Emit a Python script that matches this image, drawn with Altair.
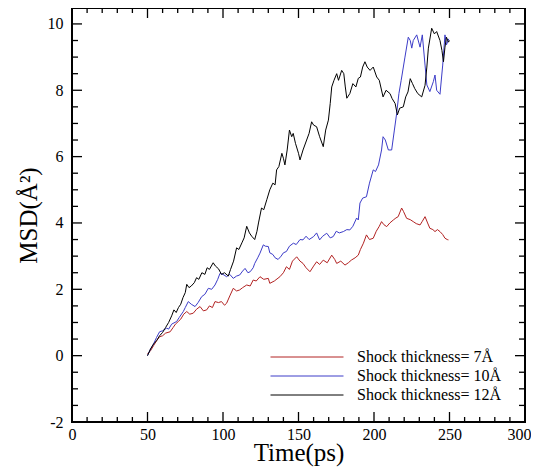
import altair as alt
import pandas as pd

# ---- data ----
t12 = [50, 52, 54, 56, 58, 60, 62, 64, 66, 67.5, 69, 70.5, 72, 73.5, 75, 76, 77.5, 79, 81, 82.5,
       84, 86, 88, 89.5, 91, 93.5, 95, 97, 99, 101, 103.5, 105, 107, 109, 110.5, 112.5, 114, 115.7,
       117.5, 119, 121, 122.5, 123.5, 125.5, 127, 129, 131, 133, 134.5, 135.5, 137, 139, 140, 141,
       142.5, 144, 145.5, 146.5, 148, 150, 151, 153, 155.4, 157, 158.7, 160, 162, 164, 166.4, 168,
       169.8, 171, 172, 173.5, 175.3, 176.5, 178.6, 180, 181, 182, 184, 186, 188, 189.6, 191, 192.5,
       194, 195.5, 197.4, 199.5, 201.8, 203.5, 206, 208, 210.6, 212, 214, 215.5, 217, 219.4, 221,
       222.5, 224, 225.5, 227, 229, 231.6, 233.8, 235, 236, 238.2, 240, 241.5, 243.7, 245, 246, 247,
       248, 249.3, 250]
v12 = [0.0, 0.2, 0.35, 0.45, 0.6, 0.7, 0.85, 1.0, 1.2, 1.38, 1.3, 1.45, 1.55, 1.75, 1.9, 2.15, 2.05,
       2.1, 2.2, 2.35, 2.3, 2.5, 2.45, 2.65, 2.6, 2.8, 2.7, 2.62, 2.45, 2.5, 2.4, 2.6, 2.85, 3.25, 3.2,
       3.4, 3.55, 3.9, 3.7, 3.6, 3.5, 3.75, 4.0, 4.45, 4.4, 4.7, 5.0, 5.2, 5.15, 5.6, 5.7, 6.1, 5.95,
       5.75, 6.2, 6.8, 6.6, 6.7, 6.4, 6.1, 5.9, 6.2, 6.5, 6.7, 7.05, 6.95, 6.9, 6.6, 6.3, 6.8, 7.1,
       7.6, 8.1, 8.3, 8.5, 8.3, 8.6, 8.5, 8.1, 7.76, 7.9, 8.2, 8.1, 8.36, 8.4, 8.7, 8.86, 8.7, 8.6,
       8.7, 8.4, 8.3, 7.8, 8.0, 7.9, 7.75, 7.6, 7.26, 7.46, 7.5, 7.8, 7.95, 8.35, 8.2, 8.05, 7.9, 7.8,
       8.15, 8.7, 9.27, 9.87, 9.7, 9.77, 9.5, 9.2, 8.86, 9.3, 9.6, 9.45, 9.5]

t10 = [50, 52, 54, 56, 58, 60, 62.7, 64, 66, 69.3, 71, 73.7, 75, 77, 79, 81.5, 83.5, 85.9, 88, 90.3,
       92.5, 94.7, 96.5, 98, 100, 102.4, 104.5, 106.8, 109, 111, 113, 114.6, 116.5, 118, 120, 121,
       123, 124.5, 126.7, 128, 130, 131, 133, 134.5, 136.5, 138.5, 140, 142, 144, 146.6, 148.5, 151,
       153, 155, 157, 160, 162, 164, 166, 168.7, 171, 173, 175, 177, 179.7, 182, 184, 186, 188.5,
       189.6, 190.7, 192.5, 195, 197, 199.5, 201, 203, 205, 206, 207.5, 209.5, 211.7, 213.5, 215,
       216.5, 218, 220.5, 222.7, 224, 225, 226, 228.3, 230.5, 232, 233.8, 235, 237, 239.3, 240.4,
       241.5, 243.7, 245.5, 247, 248, 249.5]
v10 = [0.0, 0.2, 0.35, 0.55, 0.72, 0.75, 0.83, 0.8, 0.95, 1.03, 1.15, 1.33, 1.45, 1.63, 1.55, 1.48,
       1.6, 1.78, 1.85, 2.03, 2.0, 2.13, 2.3, 2.48, 2.45, 2.38, 2.45, 2.33, 2.4, 2.43, 2.55, 2.63, 2.5,
       2.53, 2.65, 2.78, 2.95, 3.09, 3.34, 3.3, 3.29, 3.1, 3.05, 2.95, 2.9, 3.0, 3.1, 3.14, 3.3, 3.39,
       3.35, 3.5, 3.49, 3.6, 3.5, 3.59, 3.7, 3.49, 3.6, 3.69, 3.55, 3.59, 3.75, 3.7, 3.74, 3.8, 3.79,
       3.9, 4.15, 4.09, 4.6, 4.75, 4.79, 5.2, 5.6, 5.55, 5.75, 6.2, 6.6, 6.5, 6.2, 6.2, 6.8, 7.3, 7.9,
       8.3, 9.0, 9.6, 9.5, 9.27, 9.5, 9.67, 9.3, 9.67, 8.76, 8.16, 7.96, 8.26, 8.46, 8.0, 7.88, 8.76,
       9.67, 9.37, 9.55]

t7 = [50, 52, 54, 56, 58, 60, 62, 65, 67, 68.5, 70.4, 72, 74, 76, 78, 80.3, 82.5, 84.8, 87, 89.2,
      91, 93, 94.7, 97, 99, 101, 102.4, 104.5, 106.8, 109, 111, 113, 115.7, 118, 120, 122, 124.5,
      127, 130, 131, 134, 137.7, 140, 142, 144, 146, 148.8, 151, 153, 155, 157.6, 160, 162, 164,
      166.4, 169, 172, 174, 175.3, 178, 180.8, 183, 185, 187.5, 189.6, 191, 193, 195, 197, 199.5,
      201.5, 203.5, 205, 206.5, 208.4, 210.5, 212.8, 214.5, 216, 218.3, 219.5, 221.6, 224, 226, 228,
      230.5, 232, 233.8, 235.5, 237, 239, 240.4, 242, 243.7, 245.5, 247, 248.5, 249.3]
v7 = [0.05, 0.15, 0.3, 0.45, 0.57, 0.6, 0.68, 0.72, 0.85, 0.95, 1.03, 1.1, 1.25, 1.33, 1.25, 1.28,
      1.4, 1.48, 1.35, 1.38, 1.5, 1.45, 1.63, 1.6, 1.63, 1.52, 1.58, 1.8, 2.03, 1.95, 1.98, 2.05,
      2.13, 2.1, 2.28, 2.25, 2.38, 2.3, 2.33, 2.18, 2.25, 2.38, 2.5, 2.68, 2.6, 2.85, 2.98, 2.85,
      2.78, 2.65, 2.53, 2.7, 2.83, 2.75, 2.88, 2.8, 3.03, 2.9, 2.78, 2.85, 2.73, 2.8, 2.88, 2.95,
      3.03, 3.2, 3.39, 3.64, 3.5, 3.54, 3.75, 3.9, 4.04, 3.95, 3.89, 4.0, 4.09, 4.15, 4.19, 4.45,
      4.35, 4.14, 4.1, 4.04, 3.98, 3.94, 4.05, 4.19, 4.0, 3.84, 3.8, 3.74, 3.8, 3.74, 3.65, 3.54,
      3.5, 3.49]

labels = ["Shock thickness= 7Å", "Shock thickness= 10Å", "Shock thickness= 12Å"]
colors = ["#b22222", "#3c3cc8", "#000000"]

x_labels = [0, 50, 100, 150, 200, 250, 300]
y_labels = [-2, 0, 2, 4, 6, 8, 10]
x_major = [50, 100, 150, 200, 250]
x_minor = [10, 20, 30, 40, 60, 70, 80, 90, 110, 120, 130, 140, 160, 170, 180, 190,
           210, 220, 230, 240, 260, 270, 280, 290]
y_major = [0, 2, 4, 6, 8, 10]
y_minor = [-1.5, -1, -0.5, 0.5, 1, 1.5, 2.5, 3, 3.5, 4.5, 5, 5.5, 6.5, 7, 7.5,
           8.5, 9, 9.5]

# ---- build table ----
rows = []
for lab, ts, vs in zip(labels, [t7, t10, t12], [v7, v10, v12]):
    for t, v in zip(ts, vs):
        rows.append({"t": t, "v": v, "series": lab})
df = pd.DataFrame(rows)

W, H = 453, 414
FONT = "Liberation Serif"
xs = alt.Scale(domain=[0, 300], nice=False, zero=False)
ys = alt.Scale(domain=[-2, 10.48], nice=False, zero=False)

x_axis = alt.Axis(
    values=x_labels, title="Time(ps)", ticks=False, domain=False, grid=False,
    labelFont=FONT, labelFontSize=16, labelColor="black", labelPadding=4,
    labelAlign=alt.ExprRef("datum.value == 300 ? 'right' : 'center'"),
    labelOffset=alt.ExprRef("datum.value == 300 ? 6 : 0"),
    titleFont=FONT, titleFontSize=25, titleFontWeight="normal", titleColor="black",
    titlePadding=-2, labelFlush=False)
y_axis = alt.Axis(
    values=y_labels, title="MSD(Å²)", ticks=False, domain=False, grid=False,
    labelExpr="'' + datum.value",
    labelFont=FONT, labelFontSize=16, labelColor="black", labelPadding=9,
    titleFont=FONT, titleFontSize=25, titleFontWeight="normal", titleColor="black",
    titlePadding=6, labelFlush=False)

lines = alt.Chart(df).mark_line(strokeWidth=1, clip=True).encode(
    x=alt.X("t:Q", scale=xs, axis=x_axis),
    y=alt.Y("v:Q", scale=ys, axis=y_axis),
    color=alt.Color("series:N", scale=alt.Scale(domain=labels, range=colors),
                    legend=alt.Legend(title=None, orient="none", legendX=225, legendY=339,
                                      symbolType="M-4,0H4", symbolSize=333, symbolStrokeWidth=1,
                                      labelFont=FONT, labelFontSize=16, labelColor="black",
                                      labelOffset=40, rowPadding=1)),
)

def xticks(vals, length, top):
    d = pd.DataFrame({"t": vals})
    if top:
        yv, y2v = 0, length
    else:
        yv, y2v = H, H - length
    return alt.Chart(d).mark_rule(color="black", strokeWidth=1.3).encode(
        x=alt.X("t:Q", scale=xs, axis=x_axis), y=alt.value(yv), y2=alt.value(y2v))

def yticks(vals, length, right):
    d = pd.DataFrame({"v": vals})
    if right:
        xv, x2v = W, W - length
    else:
        xv, x2v = 0, length
    return alt.Chart(d).mark_rule(color="black", strokeWidth=1.3).encode(
        y=alt.Y("v:Q", scale=ys, axis=y_axis), x=alt.value(xv), x2=alt.value(x2v))

chart = alt.layer(
    lines,
    xticks(x_major, 10, False), xticks(x_minor, 5, False),
    xticks(x_major, 10, True), xticks(x_minor, 5, True),
    yticks(y_major, 10, False), yticks(y_minor, 6, False),
    yticks(y_major, 10, True), yticks(y_minor, 6, True),
).properties(
    width=W, height=H, autosize="none",
    padding={"left": 64, "top": 0, "right": 6, "bottom": 46},
).configure_view(stroke="black", strokeWidth=2)

chart.save("out.html", embed_options={"renderer": "svg", "actions": False})
